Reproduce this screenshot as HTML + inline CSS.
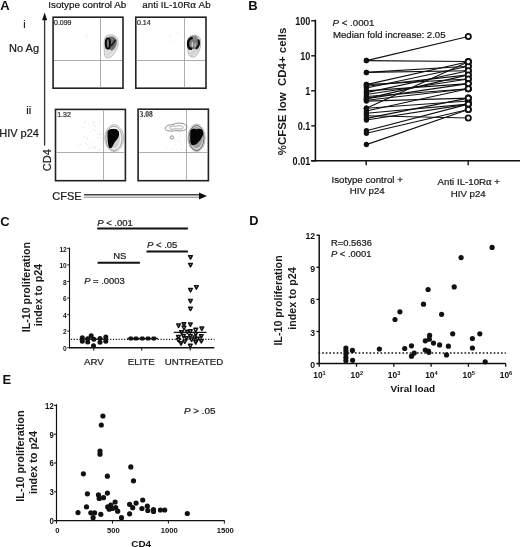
<!DOCTYPE html>
<html><head><meta charset="utf-8"><style>
html,body{margin:0;padding:0;background:#fff;}
body{width:520px;height:547px;overflow:hidden;}
svg{display:block;font-family:"Liberation Sans", sans-serif;filter:blur(0.3px);}
text:not([style*="bold"]){stroke:#1a1a1a;stroke-width:0.22px;}
</style></head><body>
<svg width="520" height="547" viewBox="0 0 520 547">
<rect width="520" height="547" fill="#fff"/>
<text x="0.3" y="9.5" style="font-size:13px;font-weight:bold;" text-anchor="start" fill="#111" >A</text>
<text x="48.3" y="7.8" style="font-size:9.8px;" text-anchor="start" fill="#1a1a1a" >Isotype control Ab</text>
<text x="142.3" y="7.8" style="font-size:9.8px;" text-anchor="start" fill="#1a1a1a" >anti IL-10R<tspan style="font-family:Liberation Serif,serif;font-size:1.1em">&#945;</tspan> Ab</text>
<text x="23.3" y="28.3" style="font-size:11px;" text-anchor="start" fill="#1a1a1a" >i</text>
<text x="9.1" y="51.7" style="font-size:11px;" text-anchor="start" fill="#1a1a1a" >No Ag</text>
<text x="26.3" y="113.9" style="font-size:11px;" text-anchor="start" fill="#1a1a1a" >ii</text>
<text x="-0.8" y="136.7" style="font-size:11px;" text-anchor="start" fill="#1a1a1a" >HIV p24</text>
<line x1="44.6" y1="19" x2="44.6" y2="145.6" stroke="#333" stroke-width="1.3" />
<polygon points="42.1,20.3 44.65,12.6 47.2,20.3" fill="#111"/>
<text transform="translate(50.6,171.2) rotate(-90)" style="font-size:11px;" text-anchor="start" fill="#1a1a1a">CD4</text>
<text x="52.3" y="199.8" style="font-size:11px;" text-anchor="start" fill="#1a1a1a" >CFSE</text>
<line x1="84" y1="194.8" x2="200" y2="194.8" stroke="#444" stroke-width="1.4" />
<line x1="84" y1="197.2" x2="200" y2="197.2" stroke="#777" stroke-width="0.9" />
<polygon points="199,192.6 207,196 199,199.4" fill="#111"/>
<rect x="53.1" y="17.2" width="69.9" height="71.0" fill="none" stroke="#222" stroke-width="1.6"/>
<line x1="100.5" y1="18.2" x2="100.5" y2="87.2" stroke="#999" stroke-width="0.8" />
<line x1="54.1" y1="60.5" x2="122.0" y2="60.5" stroke="#999" stroke-width="0.8" />
<text x="54.0" y="25.0" style="font-size:7px;" text-anchor="start" fill="#3a3a3a" >0.099</text>
<rect x="135.8" y="17.2" width="70.19999999999999" height="71.0" fill="none" stroke="#222" stroke-width="1.6"/>
<line x1="184.5" y1="18.2" x2="184.5" y2="87.2" stroke="#999" stroke-width="0.8" />
<line x1="136.8" y1="60.5" x2="205.0" y2="60.5" stroke="#999" stroke-width="0.8" />
<text x="137.0" y="25.0" style="font-size:7px;" text-anchor="start" fill="#3a3a3a" >0.14</text>
<rect x="55.5" y="109.4" width="69.9" height="71.29999999999998" fill="none" stroke="#222" stroke-width="1.6"/>
<line x1="103.5" y1="110.4" x2="103.5" y2="179.7" stroke="#999" stroke-width="0.8" />
<line x1="56.5" y1="152.5" x2="124.4" y2="152.5" stroke="#999" stroke-width="0.8" />
<text x="57.2" y="116.9" style="font-size:7px;" text-anchor="start" fill="#3a3a3a" >1.32</text>
<rect x="138.1" y="109.2" width="70.30000000000001" height="71.49999999999999" fill="none" stroke="#222" stroke-width="1.6"/>
<line x1="186.5" y1="110.2" x2="186.5" y2="179.7" stroke="#999" stroke-width="0.8" />
<line x1="139.1" y1="152.5" x2="207.4" y2="152.5" stroke="#999" stroke-width="0.8" />
<text x="139.6" y="116.8" style="font-size:7.6px;font-weight:bold;font-family:'Liberation Serif',serif" fill="#222">3.08</text>
<path d="M106,36 C110,33.5 117,35 118,40 C119,46 116,52 112,56 C109,59 104.5,58.5 104.5,54 C104,48 103.5,39 106,36 Z" fill="#e4e4e4" stroke="#9a9a9a" stroke-width="0.6"/>
<path d="M106,52 C108,49 112,49 114,47 M107,55 C110,53 113,51 115,48" fill="none" stroke="#aaa" stroke-width="0.6"/>
<path d="M109,37 C112,35.5 116.8,37.5 116.8,42 C116.8,46 114,50.5 111,50.5 C108.5,50.5 108,40 109,37 Z" fill="#6e6e6e"/>
<ellipse cx="107.9" cy="43.4" rx="2.1" ry="5.2" fill="#777" stroke="#0a0a0a" stroke-width="2.0"/>
<path d="M111.2,46 L115.6,39.8" stroke="#1a1a1a" stroke-width="1.7"/>
<path d="M189,37 C192,34.5 198,34.5 200,38 C202,43 200,52 196,56 C193,58.5 188.5,57 188,52 C187.5,46 187,40 189,37 Z" fill="#e0e0e0" stroke="#999" stroke-width="0.6"/>
<path d="M190,54 C193,52 196,50 198,46 M191,56 C194,54 197,51 199,48" fill="none" stroke="#aaa" stroke-width="0.6"/>
<ellipse cx="193.6" cy="42.6" rx="5.3" ry="6.6" fill="#7a7a7a"/>
<ellipse cx="193.8" cy="37.6" rx="3.8" ry="2.0" fill="#8a8a8a"/>
<path d="M191.8,38.3 C188.6,38.2 187.7,41.8 188.1,45 C188.4,47.6 189.6,48.9 191.2,48.8" fill="none" stroke="#0a0a0a" stroke-width="2.4" stroke-linecap="round"/>
<path d="M198.6,40.2 C199.4,43 198.8,46.2 196.6,48.2" fill="none" stroke="#111" stroke-width="2.1" stroke-linecap="round"/>
<ellipse cx="192.4" cy="44.4" rx="0.9" ry="2.6" fill="#d0d0d0"/>
<ellipse cx="195.3" cy="45.0" rx="0.7" ry="1.9" fill="#bdbdbd"/>
<ellipse cx="114.2" cy="138.1" rx="9.4" ry="13.5" fill="none" stroke="#8a8a8a" stroke-width="0.6"/>
<ellipse cx="114.0" cy="138.3" rx="8.1" ry="12.2" fill="#f2f2f2" stroke="#666" stroke-width="0.6"/>
<ellipse cx="113.4" cy="138.6" rx="6.4" ry="10.0" fill="#cfcfcf"/>
<path d="M107.5,134 C107,129.5 111,128.6 113.5,129.1 C116.5,128.6 119.6,130.5 119.1,134.5 C118.6,138.5 115.5,141 114,143.5 C112.5,146.5 111.5,148.6 110,148.3 C108,147.5 107.5,141 107.5,134 Z" fill="#050505"/>
<ellipse cx="196.6" cy="137.8" rx="8.6" ry="13.8" fill="none" stroke="#8a8a8a" stroke-width="0.6"/>
<ellipse cx="196.5" cy="138.0" rx="7.5" ry="12.6" fill="#d0d0d0" stroke="#444" stroke-width="0.8"/>
<ellipse cx="196.2" cy="137.5" rx="6.4" ry="10.6" fill="#a0a0a0"/>
<path d="M190.3,133 C189.8,128.6 194,128.2 196.5,129.5 C199.3,127.8 203.5,128.8 203.2,133 C202.9,137.5 199.5,141 197.5,143 C195.5,145 193,145.6 191.3,144.5 C189.8,142.5 190.3,137 190.3,133 Z" fill="#050505"/>
<path d="M165.2,129 C164.6,125.5 170,124.8 173,124.5 C176,123 180,122.6 183,123.6 C186,124.5 187.5,126.5 186.5,128.5 C185.5,130.8 180,131.2 176,130.6 C172,131.4 165.8,131.6 165.2,129 Z" fill="none" stroke="#6a6a6a" stroke-width="0.75"/>
<path d="M169.8,127.8 C169.8,126 173.5,125.6 175.8,126.4 C178,125.3 183.2,125.6 183.2,127.5 C183.2,129.2 178,129.4 175.8,128.6 C173.5,129.5 169.8,129.6 169.8,127.8 Z" fill="none" stroke="#777" stroke-width="0.65"/>
<circle cx="171.9" cy="137.4" r="1.6" fill="none" stroke="#666" stroke-width="0.75"/>
<rect x="83.7" y="136.3" width="0.8" height="0.8" fill="#d4d4d4"/>
<rect x="86.9" y="138.1" width="0.8" height="0.8" fill="#d4d4d4"/>
<rect x="93.0" y="122.0" width="0.8" height="0.8" fill="#d4d4d4"/>
<rect x="78.3" y="145.1" width="0.8" height="0.8" fill="#d4d4d4"/>
<rect x="84.2" y="127.0" width="0.8" height="0.8" fill="#d4d4d4"/>
<rect x="101.9" y="134.1" width="0.8" height="0.8" fill="#d4d4d4"/>
<rect x="98.1" y="134.3" width="0.8" height="0.8" fill="#d4d4d4"/>
<rect x="93.3" y="124.5" width="0.8" height="0.8" fill="#d4d4d4"/>
<rect x="93.2" y="146.0" width="0.8" height="0.8" fill="#d4d4d4"/>
<rect x="90.6" y="142.2" width="0.8" height="0.8" fill="#d4d4d4"/>
<rect x="94.1" y="121.9" width="0.8" height="0.8" fill="#d4d4d4"/>
<rect x="96.2" y="137.7" width="0.8" height="0.8" fill="#d4d4d4"/>
<rect x="85.2" y="120.9" width="0.8" height="0.8" fill="#d4d4d4"/>
<rect x="98.8" y="134.2" width="0.8" height="0.8" fill="#d4d4d4"/>
<rect x="95.3" y="146.4" width="0.8" height="0.8" fill="#d4d4d4"/>
<rect x="95.1" y="147.6" width="0.8" height="0.8" fill="#d4d4d4"/>
<rect x="87.5" y="144.0" width="0.8" height="0.8" fill="#d4d4d4"/>
<rect x="88.7" y="148.1" width="0.8" height="0.8" fill="#d4d4d4"/>
<rect x="99.1" y="122.9" width="0.8" height="0.8" fill="#d4d4d4"/>
<rect x="81.3" y="126.5" width="0.8" height="0.8" fill="#d4d4d4"/>
<rect x="101.2" y="133.1" width="0.8" height="0.8" fill="#d4d4d4"/>
<rect x="93.0" y="129.0" width="0.8" height="0.8" fill="#d4d4d4"/>
<rect x="90.2" y="131.6" width="0.8" height="0.8" fill="#d4d4d4"/>
<rect x="86.4" y="137.6" width="0.8" height="0.8" fill="#d4d4d4"/>
<rect x="92.0" y="147.1" width="0.8" height="0.8" fill="#d4d4d4"/>
<rect x="94.4" y="147.9" width="0.8" height="0.8" fill="#d4d4d4"/>
<rect x="98.6" y="149.7" width="0.8" height="0.8" fill="#d4d4d4"/>
<rect x="94.1" y="124.9" width="0.8" height="0.8" fill="#d4d4d4"/>
<rect x="98.7" y="148.9" width="0.8" height="0.8" fill="#d4d4d4"/>
<rect x="99.7" y="137.1" width="0.8" height="0.8" fill="#d4d4d4"/>
<rect x="95.1" y="126.3" width="0.8" height="0.8" fill="#d4d4d4"/>
<rect x="98.0" y="137.2" width="0.8" height="0.8" fill="#d4d4d4"/>
<rect x="84.8" y="121.9" width="0.8" height="0.8" fill="#d4d4d4"/>
<rect x="98.5" y="149.7" width="0.8" height="0.8" fill="#d4d4d4"/>
<rect x="80.1" y="144.0" width="0.8" height="0.8" fill="#d4d4d4"/>
<rect x="87.9" y="124.5" width="0.8" height="0.8" fill="#d4d4d4"/>
<rect x="85.1" y="143.1" width="0.8" height="0.8" fill="#d4d4d4"/>
<rect x="98.9" y="121.3" width="0.8" height="0.8" fill="#d4d4d4"/>
<rect x="92.7" y="121.3" width="0.8" height="0.8" fill="#d4d4d4"/>
<rect x="95.2" y="129.9" width="0.8" height="0.8" fill="#d4d4d4"/>
<rect x="185.3" y="149.6" width="0.8" height="0.8" fill="#d4d4d4"/>
<rect x="176.6" y="150.0" width="0.8" height="0.8" fill="#d4d4d4"/>
<rect x="172.1" y="129.7" width="0.8" height="0.8" fill="#d4d4d4"/>
<rect x="178.8" y="128.7" width="0.8" height="0.8" fill="#d4d4d4"/>
<rect x="169.5" y="137.0" width="0.8" height="0.8" fill="#d4d4d4"/>
<rect x="179.0" y="131.4" width="0.8" height="0.8" fill="#d4d4d4"/>
<rect x="166.0" y="147.1" width="0.8" height="0.8" fill="#d4d4d4"/>
<rect x="172.2" y="149.1" width="0.8" height="0.8" fill="#d4d4d4"/>
<rect x="185.6" y="136.3" width="0.8" height="0.8" fill="#d4d4d4"/>
<rect x="175.6" y="139.4" width="0.8" height="0.8" fill="#d4d4d4"/>
<rect x="179.8" y="141.1" width="0.8" height="0.8" fill="#d4d4d4"/>
<rect x="177.9" y="141.6" width="0.8" height="0.8" fill="#d4d4d4"/>
<rect x="186.6" y="139.2" width="0.8" height="0.8" fill="#d4d4d4"/>
<rect x="174.9" y="143.8" width="0.8" height="0.8" fill="#d4d4d4"/>
<rect x="170.5" y="134.6" width="0.8" height="0.8" fill="#d4d4d4"/>
<rect x="187.5" y="139.5" width="0.8" height="0.8" fill="#d4d4d4"/>
<rect x="177.6" y="128.3" width="0.8" height="0.8" fill="#d4d4d4"/>
<rect x="174.5" y="140.8" width="0.8" height="0.8" fill="#d4d4d4"/>
<rect x="165.5" y="141.5" width="0.8" height="0.8" fill="#d4d4d4"/>
<rect x="179.5" y="129.3" width="0.8" height="0.8" fill="#d4d4d4"/>
<rect x="179.4" y="138.3" width="0.8" height="0.8" fill="#d4d4d4"/>
<rect x="180.6" y="135.8" width="0.8" height="0.8" fill="#d4d4d4"/>
<rect x="181.3" y="144.2" width="0.8" height="0.8" fill="#d4d4d4"/>
<rect x="165.5" y="129.3" width="0.8" height="0.8" fill="#d4d4d4"/>
<rect x="180.5" y="149.2" width="0.8" height="0.8" fill="#d4d4d4"/>
<rect x="85.5" y="36.0" width="0.8" height="0.8" fill="#d4d4d4"/>
<rect x="90.3" y="34.5" width="0.8" height="0.8" fill="#d4d4d4"/>
<rect x="87.1" y="34.4" width="0.8" height="0.8" fill="#d4d4d4"/>
<rect x="87.2" y="37.6" width="0.8" height="0.8" fill="#d4d4d4"/>
<rect x="169.5" y="36.5" width="0.8" height="0.8" fill="#d4d4d4"/>
<rect x="176.6" y="32.3" width="0.8" height="0.8" fill="#d4d4d4"/>
<rect x="173.5" y="40.8" width="0.8" height="0.8" fill="#d4d4d4"/>
<rect x="169.7" y="34.7" width="0.8" height="0.8" fill="#d4d4d4"/>
<text x="248.2" y="10.0" style="font-size:13px;font-weight:bold;" text-anchor="start" fill="#111" >B</text>
<text transform="translate(286.1,155.2) rotate(-90)" style="font-size:11.45px;font-weight:bold;" text-anchor="start" fill="#1a1a1a">%CFSE low&#160; CD4+ cells</text>
<line x1="315.4" y1="19.7" x2="315.4" y2="161.6" stroke="#111" stroke-width="1.6" />
<line x1="311.2" y1="160.8" x2="520" y2="160.8" stroke="#111" stroke-width="1.6" />
<line x1="311.2" y1="20.8" x2="315.4" y2="20.8" stroke="#111" stroke-width="1.4" />
<text transform="translate(310.3,24.50) scale(0.9,1)" style="font-size:10.1px;font-weight:bold" text-anchor="end" fill="#111">100</text>
<line x1="311.2" y1="55.8" x2="315.4" y2="55.8" stroke="#111" stroke-width="1.4" />
<text transform="translate(310.3,59.50) scale(0.9,1)" style="font-size:10.1px;font-weight:bold" text-anchor="end" fill="#111">10</text>
<line x1="311.2" y1="90.8" x2="315.4" y2="90.8" stroke="#111" stroke-width="1.4" />
<text transform="translate(310.3,94.50) scale(0.9,1)" style="font-size:10.1px;font-weight:bold" text-anchor="end" fill="#111">1</text>
<line x1="311.2" y1="125.8" x2="315.4" y2="125.8" stroke="#111" stroke-width="1.4" />
<text transform="translate(310.3,129.50) scale(0.9,1)" style="font-size:10.1px;font-weight:bold" text-anchor="end" fill="#111">0.1</text>
<line x1="311.2" y1="160.8" x2="315.4" y2="160.8" stroke="#111" stroke-width="1.4" />
<text transform="translate(310.3,164.50) scale(0.9,1)" style="font-size:10.1px;font-weight:bold" text-anchor="end" fill="#111">0.01</text>
<line x1="366.2" y1="160.8" x2="366.2" y2="165.2" stroke="#111" stroke-width="1.4" />
<line x1="468.2" y1="160.8" x2="468.2" y2="165.2" stroke="#111" stroke-width="1.4" />
<text x="367.2" y="182.8" style="font-size:9.7px;" text-anchor="middle" fill="#1a1a1a" >Isotype control +</text>
<text x="367.2" y="194.4" style="font-size:9.7px;" text-anchor="middle" fill="#1a1a1a" >HIV p24</text>
<text x="468.8" y="185.0" style="font-size:9.7px;" text-anchor="middle" fill="#1a1a1a" >Anti IL-10R<tspan style="font-family:Liberation Serif,serif;font-size:1.1em">&#945;</tspan> +</text>
<text x="468.2" y="196.5" style="font-size:9.7px;" text-anchor="middle" fill="#1a1a1a" >HIV p24</text>
<text x="332.6" y="26.1" style="font-size:9.7px;" text-anchor="start" fill="#1a1a1a" ><tspan style="font-style:italic">P</tspan> &lt; .0001</text>
<text x="333.0" y="37.6" style="font-size:9.6px;" text-anchor="start" fill="#1a1a1a" >Median fold increase: 2.05</text>
<line x1="366.4" y1="60.6" x2="468.3" y2="36.5" stroke="#111" stroke-width="1.15" />
<line x1="366.4" y1="60.6" x2="468.3" y2="61.5" stroke="#111" stroke-width="1.15" />
<line x1="366.4" y1="72.4" x2="468.3" y2="66.3" stroke="#111" stroke-width="1.15" />
<line x1="366.4" y1="72.4" x2="468.3" y2="70.7" stroke="#111" stroke-width="1.15" />
<line x1="366.4" y1="84.6" x2="468.3" y2="61.7" stroke="#111" stroke-width="1.15" />
<line x1="366.4" y1="86.2" x2="468.3" y2="74.9" stroke="#111" stroke-width="1.15" />
<line x1="366.4" y1="88" x2="468.3" y2="66.3" stroke="#111" stroke-width="1.15" />
<line x1="366.4" y1="90.9" x2="468.3" y2="83.6" stroke="#111" stroke-width="1.15" />
<line x1="366.4" y1="92.6" x2="468.3" y2="70.7" stroke="#111" stroke-width="1.15" />
<line x1="366.4" y1="94.5" x2="468.3" y2="79" stroke="#111" stroke-width="1.15" />
<line x1="366.4" y1="96.5" x2="468.3" y2="88.8" stroke="#111" stroke-width="1.15" />
<line x1="366.4" y1="98.6" x2="468.3" y2="74.9" stroke="#111" stroke-width="1.15" />
<line x1="366.4" y1="100.3" x2="468.3" y2="88.7" stroke="#111" stroke-width="1.15" />
<line x1="366.4" y1="101.1" x2="468.3" y2="98.1" stroke="#111" stroke-width="1.15" />
<line x1="366.4" y1="108.2" x2="468.3" y2="101" stroke="#111" stroke-width="1.15" />
<line x1="366.4" y1="111" x2="468.3" y2="88.8" stroke="#111" stroke-width="1.15" />
<line x1="366.4" y1="113.2" x2="468.3" y2="104.1" stroke="#111" stroke-width="1.15" />
<line x1="366.4" y1="115.8" x2="468.3" y2="118.0" stroke="#111" stroke-width="1.15" />
<line x1="366.4" y1="118.4" x2="468.3" y2="98.1" stroke="#111" stroke-width="1.15" />
<line x1="366.4" y1="120" x2="468.3" y2="104.1" stroke="#111" stroke-width="1.15" />
<line x1="366.4" y1="130.7" x2="468.3" y2="104.1" stroke="#111" stroke-width="1.15" />
<line x1="366.4" y1="133.3" x2="468.3" y2="109.5" stroke="#111" stroke-width="1.15" />
<line x1="366.4" y1="144.6" x2="468.3" y2="109.5" stroke="#111" stroke-width="1.15" />
<line x1="366.4" y1="84.6" x2="468.3" y2="79" stroke="#111" stroke-width="1.15" />
<line x1="366.4" y1="98.6" x2="468.3" y2="83.6" stroke="#111" stroke-width="1.15" />
<line x1="366.4" y1="108.2" x2="468.3" y2="61.7" stroke="#111" stroke-width="1.15" />
<ellipse cx="366.4" cy="60.6" rx="2.65" ry="2.75" fill="#111"/>
<ellipse cx="366.4" cy="60.6" rx="2.65" ry="2.75" fill="#111"/>
<ellipse cx="366.4" cy="72.4" rx="2.65" ry="2.75" fill="#111"/>
<ellipse cx="366.4" cy="72.4" rx="2.65" ry="2.75" fill="#111"/>
<ellipse cx="366.4" cy="84.6" rx="2.65" ry="2.75" fill="#111"/>
<ellipse cx="366.4" cy="86.2" rx="2.65" ry="2.75" fill="#111"/>
<ellipse cx="366.4" cy="88" rx="2.65" ry="2.75" fill="#111"/>
<ellipse cx="366.4" cy="90.9" rx="2.65" ry="2.75" fill="#111"/>
<ellipse cx="366.4" cy="92.6" rx="2.65" ry="2.75" fill="#111"/>
<ellipse cx="366.4" cy="94.5" rx="2.65" ry="2.75" fill="#111"/>
<ellipse cx="366.4" cy="96.5" rx="2.65" ry="2.75" fill="#111"/>
<ellipse cx="366.4" cy="98.6" rx="2.65" ry="2.75" fill="#111"/>
<ellipse cx="366.4" cy="100.3" rx="2.65" ry="2.75" fill="#111"/>
<ellipse cx="366.4" cy="101.1" rx="2.65" ry="2.75" fill="#111"/>
<ellipse cx="366.4" cy="108.2" rx="2.65" ry="2.75" fill="#111"/>
<ellipse cx="366.4" cy="111" rx="2.65" ry="2.75" fill="#111"/>
<ellipse cx="366.4" cy="113.2" rx="2.65" ry="2.75" fill="#111"/>
<ellipse cx="366.4" cy="115.8" rx="2.65" ry="2.75" fill="#111"/>
<ellipse cx="366.4" cy="118.4" rx="2.65" ry="2.75" fill="#111"/>
<ellipse cx="366.4" cy="120" rx="2.65" ry="2.75" fill="#111"/>
<ellipse cx="366.4" cy="130.7" rx="2.65" ry="2.75" fill="#111"/>
<ellipse cx="366.4" cy="133.3" rx="2.65" ry="2.75" fill="#111"/>
<ellipse cx="366.4" cy="144.6" rx="2.65" ry="2.75" fill="#111"/>
<ellipse cx="366.4" cy="84.6" rx="2.65" ry="2.75" fill="#111"/>
<ellipse cx="366.4" cy="98.6" rx="2.65" ry="2.75" fill="#111"/>
<ellipse cx="366.4" cy="108.2" rx="2.65" ry="2.75" fill="#111"/>
<circle cx="468.3" cy="36.5" r="2.6" fill="#fff" stroke="#111" stroke-width="1.8"/>
<circle cx="468.3" cy="61.5" r="2.6" fill="#fff" stroke="#111" stroke-width="1.8"/>
<circle cx="468.3" cy="66.3" r="2.6" fill="#fff" stroke="#111" stroke-width="1.8"/>
<circle cx="468.3" cy="70.7" r="2.6" fill="#fff" stroke="#111" stroke-width="1.8"/>
<circle cx="468.3" cy="61.7" r="2.6" fill="#fff" stroke="#111" stroke-width="1.8"/>
<circle cx="468.3" cy="74.9" r="2.6" fill="#fff" stroke="#111" stroke-width="1.8"/>
<circle cx="468.3" cy="66.3" r="2.6" fill="#fff" stroke="#111" stroke-width="1.8"/>
<circle cx="468.3" cy="83.6" r="2.6" fill="#fff" stroke="#111" stroke-width="1.8"/>
<circle cx="468.3" cy="70.7" r="2.6" fill="#fff" stroke="#111" stroke-width="1.8"/>
<circle cx="468.3" cy="79.0" r="2.6" fill="#fff" stroke="#111" stroke-width="1.8"/>
<circle cx="468.3" cy="88.8" r="2.6" fill="#fff" stroke="#111" stroke-width="1.8"/>
<circle cx="468.3" cy="74.9" r="2.6" fill="#fff" stroke="#111" stroke-width="1.8"/>
<circle cx="468.3" cy="88.7" r="2.6" fill="#fff" stroke="#111" stroke-width="1.8"/>
<circle cx="468.3" cy="98.1" r="2.6" fill="#fff" stroke="#111" stroke-width="1.8"/>
<circle cx="468.3" cy="101.0" r="2.6" fill="#fff" stroke="#111" stroke-width="1.8"/>
<circle cx="468.3" cy="88.8" r="2.6" fill="#fff" stroke="#111" stroke-width="1.8"/>
<circle cx="468.3" cy="104.1" r="2.6" fill="#fff" stroke="#111" stroke-width="1.8"/>
<circle cx="468.3" cy="118.0" r="2.6" fill="#fff" stroke="#111" stroke-width="1.8"/>
<circle cx="468.3" cy="98.1" r="2.6" fill="#fff" stroke="#111" stroke-width="1.8"/>
<circle cx="468.3" cy="104.1" r="2.6" fill="#fff" stroke="#111" stroke-width="1.8"/>
<circle cx="468.3" cy="104.1" r="2.6" fill="#fff" stroke="#111" stroke-width="1.8"/>
<circle cx="468.3" cy="109.5" r="2.6" fill="#fff" stroke="#111" stroke-width="1.8"/>
<circle cx="468.3" cy="109.5" r="2.6" fill="#fff" stroke="#111" stroke-width="1.8"/>
<circle cx="468.3" cy="79.0" r="2.6" fill="#fff" stroke="#111" stroke-width="1.8"/>
<circle cx="468.3" cy="83.6" r="2.6" fill="#fff" stroke="#111" stroke-width="1.8"/>
<circle cx="468.3" cy="61.7" r="2.6" fill="#fff" stroke="#111" stroke-width="1.8"/>
<text x="0.3" y="225.6" style="font-size:13px;font-weight:bold;" text-anchor="start" fill="#111" >C</text>
<text transform="translate(29.6,332.3) rotate(-90)" style="font-size:10.7px;font-weight:bold;" text-anchor="start" fill="#1a1a1a">IL-10 proliferation</text>
<text transform="translate(42.4,326.3) rotate(-90)" style="font-size:10.7px;font-weight:bold;" text-anchor="start" fill="#1a1a1a">index to p24</text>
<line x1="69.5" y1="247.6" x2="69.5" y2="348.5" stroke="#111" stroke-width="1.1" />
<line x1="69.5" y1="347.7" x2="214.3" y2="347.7" stroke="#111" stroke-width="1.5" />
<line x1="67.2" y1="347.7" x2="69.5" y2="347.7" stroke="#111" stroke-width="0.9" />
<text transform="translate(66.7,350.90) scale(0.9,1)" style="font-size:7.3px;font-weight:bold" text-anchor="end" fill="#111">0</text>
<line x1="67.2" y1="331.14" x2="69.5" y2="331.14" stroke="#111" stroke-width="0.9" />
<text transform="translate(66.7,334.34) scale(0.9,1)" style="font-size:7.3px;font-weight:bold" text-anchor="end" fill="#111">2</text>
<line x1="67.2" y1="314.58" x2="69.5" y2="314.58" stroke="#111" stroke-width="0.9" />
<text transform="translate(66.7,317.78) scale(0.9,1)" style="font-size:7.3px;font-weight:bold" text-anchor="end" fill="#111">4</text>
<line x1="67.2" y1="298.02" x2="69.5" y2="298.02" stroke="#111" stroke-width="0.9" />
<text transform="translate(66.7,301.22) scale(0.9,1)" style="font-size:7.3px;font-weight:bold" text-anchor="end" fill="#111">6</text>
<line x1="67.2" y1="281.46" x2="69.5" y2="281.46" stroke="#111" stroke-width="0.9" />
<text transform="translate(66.7,284.66) scale(0.9,1)" style="font-size:7.3px;font-weight:bold" text-anchor="end" fill="#111">8</text>
<line x1="67.2" y1="264.9" x2="69.5" y2="264.9" stroke="#111" stroke-width="0.9" />
<text transform="translate(66.7,268.10) scale(0.9,1)" style="font-size:7.3px;font-weight:bold" text-anchor="end" fill="#111">10</text>
<line x1="67.2" y1="248.34" x2="69.5" y2="248.34" stroke="#111" stroke-width="0.9" />
<text transform="translate(66.7,251.54) scale(0.9,1)" style="font-size:7.3px;font-weight:bold" text-anchor="end" fill="#111">12</text>
<line x1="93.8" y1="347.7" x2="93.8" y2="350.6" stroke="#111" stroke-width="1.0" />
<line x1="141.7" y1="347.7" x2="141.7" y2="350.6" stroke="#111" stroke-width="1.0" />
<line x1="190.2" y1="347.7" x2="190.2" y2="350.6" stroke="#111" stroke-width="1.0" />
<line x1="70.9" y1="339.3" x2="214.5" y2="339.3" stroke="#111" stroke-width="1.3" stroke-dasharray="1.2 1.6"/>
<text x="93.8" y="364.6" style="font-size:9.7px;" text-anchor="middle" fill="#1a1a1a" >ARV</text>
<text x="141.2" y="364.6" style="font-size:9.7px;" text-anchor="middle" fill="#1a1a1a" >ELITE</text>
<text x="193.9" y="364.6" style="font-size:9.7px;" text-anchor="middle" fill="#1a1a1a" >UNTREATED</text>
<text x="97.2" y="226.0" style="font-size:9.5px;" text-anchor="start" fill="#1a1a1a" ><tspan style="font-style:italic">P</tspan> &lt; .001</text>
<line x1="97.2" y1="228.4" x2="187.9" y2="228.4" stroke="#111" stroke-width="2.0" />
<text x="147.0" y="248.3" style="font-size:9.5px;" text-anchor="start" fill="#1a1a1a" ><tspan style="font-style:italic">P</tspan> &lt; .05</text>
<line x1="146.5" y1="251.4" x2="187.9" y2="251.4" stroke="#111" stroke-width="2.0" />
<text x="119.8" y="259.0" style="font-size:9.5px;" text-anchor="middle" fill="#1a1a1a" >NS</text>
<line x1="97.6" y1="262.7" x2="139.9" y2="262.7" stroke="#111" stroke-width="2.0" />
<text x="84.2" y="284.4" style="font-size:9.4px;" text-anchor="start" fill="#1a1a1a" ><tspan style="font-style:italic">P</tspan> = .0003</text>
<circle cx="82.3" cy="337.7" r="2.5" fill="#111" stroke="none" stroke-width="0"/>
<circle cx="82.3" cy="341.2" r="2.5" fill="#111" stroke="none" stroke-width="0"/>
<circle cx="87.7" cy="338.8" r="2.5" fill="#111" stroke="none" stroke-width="0"/>
<circle cx="87.7" cy="341.9" r="2.5" fill="#111" stroke="none" stroke-width="0"/>
<circle cx="91.2" cy="335.8" r="2.5" fill="#111" stroke="none" stroke-width="0"/>
<circle cx="93.8" cy="339.2" r="2.5" fill="#111" stroke="none" stroke-width="0"/>
<circle cx="100.0" cy="338.5" r="2.5" fill="#111" stroke="none" stroke-width="0"/>
<circle cx="100.0" cy="342.3" r="2.5" fill="#111" stroke="none" stroke-width="0"/>
<circle cx="105.8" cy="336.9" r="2.5" fill="#111" stroke="none" stroke-width="0"/>
<circle cx="105.8" cy="341.2" r="2.5" fill="#111" stroke="none" stroke-width="0"/>
<circle cx="93.5" cy="345.8" r="2.5" fill="#111" stroke="none" stroke-width="0"/>
<line x1="80" y1="339.2" x2="108" y2="339.2" stroke="#111" stroke-width="1.2" />
<line x1="127.3" y1="338.5" x2="157.9" y2="338.5" stroke="#111" stroke-width="1.4" />
<rect x="128.6" y="336.6" width="4.4" height="3.8" rx="1.2" fill="#111"/>
<rect x="133.8" y="336.6" width="4.4" height="3.8" rx="1.2" fill="#111"/>
<rect x="140.1" y="336.6" width="4.4" height="3.8" rx="1.2" fill="#111"/>
<rect x="145.8" y="336.6" width="4.4" height="3.8" rx="1.2" fill="#111"/>
<rect x="151.6" y="336.6" width="4.4" height="3.8" rx="1.2" fill="#111"/>
<path d="M188.65,255.65 L192.35,255.65 L190.50,259.05 Z" fill="#fff" stroke="#111" stroke-width="1.5" stroke-linejoin="round"/>
<path d="M188.65,263.45 L192.35,263.45 L190.50,266.85 Z" fill="#fff" stroke="#111" stroke-width="1.5" stroke-linejoin="round"/>
<path d="M188.65,288.45 L192.35,288.45 L190.50,291.85 Z" fill="#fff" stroke="#111" stroke-width="1.5" stroke-linejoin="round"/>
<path d="M194.55,285.75 L198.25,285.75 L196.40,289.15 Z" fill="#fff" stroke="#111" stroke-width="1.5" stroke-linejoin="round"/>
<path d="M188.65,299.45 L192.35,299.45 L190.50,302.85 Z" fill="#fff" stroke="#111" stroke-width="1.5" stroke-linejoin="round"/>
<path d="M188.65,307.15 L192.35,307.15 L190.50,310.55 Z" fill="#fff" stroke="#111" stroke-width="1.5" stroke-linejoin="round"/>
<path d="M176.75,323.95 L180.45,323.95 L178.60,327.35 Z" fill="#fff" stroke="#111" stroke-width="1.5" stroke-linejoin="round"/>
<path d="M182.05,322.65 L185.75,322.65 L183.90,326.05 Z" fill="#fff" stroke="#111" stroke-width="1.5" stroke-linejoin="round"/>
<path d="M188.55,322.95 L192.25,322.95 L190.40,326.35 Z" fill="#fff" stroke="#111" stroke-width="1.5" stroke-linejoin="round"/>
<path d="M182.15,326.25 L185.85,326.25 L184.00,329.65 Z" fill="#fff" stroke="#111" stroke-width="1.5" stroke-linejoin="round"/>
<path d="M193.85,328.35 L197.55,328.35 L195.70,331.75 Z" fill="#fff" stroke="#111" stroke-width="1.5" stroke-linejoin="round"/>
<path d="M199.95,327.05 L203.65,327.05 L201.80,330.45 Z" fill="#fff" stroke="#111" stroke-width="1.5" stroke-linejoin="round"/>
<path d="M179.65,330.65 L183.35,330.65 L181.50,334.05 Z" fill="#fff" stroke="#111" stroke-width="1.5" stroke-linejoin="round"/>
<path d="M185.45,330.15 L189.15,330.15 L187.30,333.55 Z" fill="#fff" stroke="#111" stroke-width="1.5" stroke-linejoin="round"/>
<path d="M188.45,329.85 L192.15,329.85 L190.30,333.25 Z" fill="#fff" stroke="#111" stroke-width="1.5" stroke-linejoin="round"/>
<path d="M193.85,332.45 L197.55,332.45 L195.70,335.85 Z" fill="#fff" stroke="#111" stroke-width="1.5" stroke-linejoin="round"/>
<path d="M176.55,335.45 L180.25,335.45 L178.40,338.85 Z" fill="#fff" stroke="#111" stroke-width="1.5" stroke-linejoin="round"/>
<path d="M181.65,334.45 L185.35,334.45 L183.50,337.85 Z" fill="#fff" stroke="#111" stroke-width="1.5" stroke-linejoin="round"/>
<path d="M188.45,334.45 L192.15,334.45 L190.30,337.85 Z" fill="#fff" stroke="#111" stroke-width="1.5" stroke-linejoin="round"/>
<path d="M192.85,335.95 L196.55,335.95 L194.70,339.35 Z" fill="#fff" stroke="#111" stroke-width="1.5" stroke-linejoin="round"/>
<path d="M199.45,334.65 L203.15,334.65 L201.30,338.05 Z" fill="#fff" stroke="#111" stroke-width="1.5" stroke-linejoin="round"/>
<path d="M184.65,336.65 L188.35,336.65 L186.50,340.05 Z" fill="#fff" stroke="#111" stroke-width="1.5" stroke-linejoin="round"/>
<path d="M195.65,337.15 L199.35,337.15 L197.50,340.55 Z" fill="#fff" stroke="#111" stroke-width="1.5" stroke-linejoin="round"/>
<path d="M176.55,338.55 L180.25,338.55 L178.40,341.95 Z" fill="#fff" stroke="#111" stroke-width="1.5" stroke-linejoin="round"/>
<path d="M189.75,338.05 L193.45,338.05 L191.60,341.45 Z" fill="#fff" stroke="#111" stroke-width="1.5" stroke-linejoin="round"/>
<path d="M199.45,339.55 L203.15,339.55 L201.30,342.95 Z" fill="#fff" stroke="#111" stroke-width="1.5" stroke-linejoin="round"/>
<path d="M179.15,341.65 L182.85,341.65 L181.00,345.05 Z" fill="#fff" stroke="#111" stroke-width="1.5" stroke-linejoin="round"/>
<path d="M182.95,340.05 L186.65,340.05 L184.80,343.45 Z" fill="#fff" stroke="#111" stroke-width="1.5" stroke-linejoin="round"/>
<path d="M193.85,340.65 L197.55,340.65 L195.70,344.05 Z" fill="#fff" stroke="#111" stroke-width="1.5" stroke-linejoin="round"/>
<path d="M188.45,344.15 L192.15,344.15 L190.30,347.55 Z" fill="#fff" stroke="#111" stroke-width="1.5" stroke-linejoin="round"/>
<line x1="173.7" y1="332.4" x2="206.5" y2="332.4" stroke="#111" stroke-width="1.3" />
<text x="249.2" y="225.4" style="font-size:12.8px;font-weight:bold;" text-anchor="start" fill="#111" >D</text>
<text transform="translate(281.6,345.6) rotate(-90)" style="font-size:10.7px;font-weight:bold;" text-anchor="start" fill="#1a1a1a">IL-10 proliferation</text>
<text transform="translate(295.8,329.7) rotate(-90)" style="font-size:10.7px;font-weight:bold;" text-anchor="start" fill="#1a1a1a">index to p24</text>
<line x1="319.2" y1="234.8" x2="319.2" y2="364" stroke="#111" stroke-width="1.5" />
<line x1="316.8" y1="363.4" x2="505.8" y2="363.4" stroke="#111" stroke-width="1.5" />
<line x1="316.4" y1="363.6" x2="319.2" y2="363.6" stroke="#111" stroke-width="1.3" />
<text x="315.2" y="367.8" style="font-size:8.7px;font-weight:bold;" text-anchor="end" fill="#111" >0</text>
<line x1="316.4" y1="331.5" x2="319.2" y2="331.5" stroke="#111" stroke-width="1.3" />
<text x="315.2" y="335.7" style="font-size:8.7px;font-weight:bold;" text-anchor="end" fill="#111" >3</text>
<line x1="316.4" y1="299.40000000000003" x2="319.2" y2="299.40000000000003" stroke="#111" stroke-width="1.3" />
<text x="315.2" y="303.6" style="font-size:8.7px;font-weight:bold;" text-anchor="end" fill="#111" >6</text>
<line x1="316.4" y1="267.3" x2="319.2" y2="267.3" stroke="#111" stroke-width="1.3" />
<text x="315.2" y="271.5" style="font-size:8.7px;font-weight:bold;" text-anchor="end" fill="#111" >9</text>
<line x1="316.4" y1="235.20000000000005" x2="319.2" y2="235.20000000000005" stroke="#111" stroke-width="1.3" />
<text x="315.2" y="239.40000000000003" style="font-size:8.7px;font-weight:bold;" text-anchor="end" fill="#111" >12</text>
<line x1="319.2" y1="363.4" x2="319.2" y2="366.8" stroke="#111" stroke-width="1.3" />
<text x="319.5" y="378.2" style="font-size:8.4px;font-weight:bold;" text-anchor="middle" fill="#111" >10<tspan dy="-3.6" style="font-size:5.6px">1</tspan></text>
<line x1="356.5" y1="363.4" x2="356.5" y2="366.8" stroke="#111" stroke-width="1.3" />
<text x="356.8" y="378.2" style="font-size:8.4px;font-weight:bold;" text-anchor="middle" fill="#111" >10<tspan dy="-3.6" style="font-size:5.6px">2</tspan></text>
<line x1="393.79999999999995" y1="363.4" x2="393.79999999999995" y2="366.8" stroke="#111" stroke-width="1.3" />
<text x="394.09999999999997" y="378.2" style="font-size:8.4px;font-weight:bold;" text-anchor="middle" fill="#111" >10<tspan dy="-3.6" style="font-size:5.6px">3</tspan></text>
<line x1="431.09999999999997" y1="363.4" x2="431.09999999999997" y2="366.8" stroke="#111" stroke-width="1.3" />
<text x="431.4" y="378.2" style="font-size:8.4px;font-weight:bold;" text-anchor="middle" fill="#111" >10<tspan dy="-3.6" style="font-size:5.6px">4</tspan></text>
<line x1="468.4" y1="363.4" x2="468.4" y2="366.8" stroke="#111" stroke-width="1.3" />
<text x="468.7" y="378.2" style="font-size:8.4px;font-weight:bold;" text-anchor="middle" fill="#111" >10<tspan dy="-3.6" style="font-size:5.6px">5</tspan></text>
<line x1="505.7" y1="363.4" x2="505.7" y2="366.8" stroke="#111" stroke-width="1.3" />
<text x="506.0" y="378.2" style="font-size:8.4px;font-weight:bold;" text-anchor="middle" fill="#111" >10<tspan dy="-3.6" style="font-size:5.6px">6</tspan></text>
<text x="390.6" y="392.3" style="font-size:9.95px;font-weight:bold;" text-anchor="start" fill="#111" >Viral load</text>
<text x="331.0" y="245.6" style="font-size:9.4px;" text-anchor="start" fill="#1a1a1a" >R=0.5636</text>
<text x="331.0" y="257.1" style="font-size:9.4px;" text-anchor="start" fill="#1a1a1a" ><tspan style="font-style:italic">P</tspan> &lt; .0001</text>
<line x1="318.5" y1="353.0" x2="505.8" y2="353.0" stroke="#111" stroke-width="1.4" stroke-dasharray="1.6 2.05"/>
<circle cx="345.9" cy="348.0" r="2.6" fill="#111" stroke="none" stroke-width="0"/>
<circle cx="345.9" cy="351.0" r="2.6" fill="#111" stroke="none" stroke-width="0"/>
<circle cx="345.9" cy="354.0" r="2.6" fill="#111" stroke="none" stroke-width="0"/>
<circle cx="345.9" cy="357.5" r="2.6" fill="#111" stroke="none" stroke-width="0"/>
<circle cx="345.9" cy="360.5" r="2.6" fill="#111" stroke="none" stroke-width="0"/>
<circle cx="352.4" cy="350.4" r="2.6" fill="#111" stroke="none" stroke-width="0"/>
<circle cx="352.6" cy="360.3" r="2.6" fill="#111" stroke="none" stroke-width="0"/>
<circle cx="379.4" cy="349.0" r="2.6" fill="#111" stroke="none" stroke-width="0"/>
<circle cx="395.0" cy="319.5" r="2.6" fill="#111" stroke="none" stroke-width="0"/>
<circle cx="399.9" cy="311.8" r="2.6" fill="#111" stroke="none" stroke-width="0"/>
<circle cx="404.7" cy="348.5" r="2.6" fill="#111" stroke="none" stroke-width="0"/>
<circle cx="411.5" cy="345.8" r="2.6" fill="#111" stroke="none" stroke-width="0"/>
<circle cx="414.2" cy="353.1" r="2.6" fill="#111" stroke="none" stroke-width="0"/>
<circle cx="411.5" cy="356.2" r="2.6" fill="#111" stroke="none" stroke-width="0"/>
<circle cx="423.5" cy="304.2" r="2.6" fill="#111" stroke="none" stroke-width="0"/>
<circle cx="428.1" cy="289.5" r="2.6" fill="#111" stroke="none" stroke-width="0"/>
<circle cx="429.6" cy="335.4" r="2.6" fill="#111" stroke="none" stroke-width="0"/>
<circle cx="425.3" cy="340.8" r="2.6" fill="#111" stroke="none" stroke-width="0"/>
<circle cx="429.3" cy="339.2" r="2.6" fill="#111" stroke="none" stroke-width="0"/>
<circle cx="433.5" cy="343.1" r="2.6" fill="#111" stroke="none" stroke-width="0"/>
<circle cx="425.3" cy="350.0" r="2.6" fill="#111" stroke="none" stroke-width="0"/>
<circle cx="428.5" cy="351.1" r="2.6" fill="#111" stroke="none" stroke-width="0"/>
<circle cx="428.8" cy="352.3" r="2.6" fill="#111" stroke="none" stroke-width="0"/>
<circle cx="439.6" cy="344.9" r="2.6" fill="#111" stroke="none" stroke-width="0"/>
<circle cx="441.6" cy="314.3" r="2.6" fill="#111" stroke="none" stroke-width="0"/>
<circle cx="448.4" cy="346.2" r="2.6" fill="#111" stroke="none" stroke-width="0"/>
<circle cx="446.5" cy="354.9" r="2.6" fill="#111" stroke="none" stroke-width="0"/>
<circle cx="452.7" cy="333.8" r="2.6" fill="#111" stroke="none" stroke-width="0"/>
<circle cx="454.2" cy="286.9" r="2.6" fill="#111" stroke="none" stroke-width="0"/>
<circle cx="461.1" cy="257.6" r="2.6" fill="#111" stroke="none" stroke-width="0"/>
<circle cx="472.4" cy="338.5" r="2.6" fill="#111" stroke="none" stroke-width="0"/>
<circle cx="479.8" cy="333.8" r="2.6" fill="#111" stroke="none" stroke-width="0"/>
<circle cx="472.4" cy="348.0" r="2.6" fill="#111" stroke="none" stroke-width="0"/>
<circle cx="485.2" cy="361.8" r="2.6" fill="#111" stroke="none" stroke-width="0"/>
<circle cx="492.1" cy="247.4" r="2.6" fill="#111" stroke="none" stroke-width="0"/>
<text x="2.6" y="383.5" style="font-size:13px;font-weight:bold;" text-anchor="start" fill="#111" >E</text>
<text transform="translate(24.1,501.7) rotate(-90)" style="font-size:10.8px;font-weight:bold;" text-anchor="start" fill="#1a1a1a">IL-10 proliferation</text>
<text transform="translate(36.5,494.0) rotate(-90)" style="font-size:10.8px;font-weight:bold;" text-anchor="start" fill="#1a1a1a">index to p24</text>
<line x1="56.5" y1="404.2" x2="56.5" y2="521" stroke="#111" stroke-width="1.2" />
<line x1="53.8" y1="520.6" x2="224.6" y2="520.6" stroke="#111" stroke-width="1.3" />
<line x1="54" y1="520.6" x2="56.5" y2="520.6" stroke="#111" stroke-width="1.0" />
<text transform="translate(53.7,523.90) scale(0.9,1)" style="font-size:8.6px;font-weight:bold" text-anchor="end" fill="#111">0</text>
<line x1="54" y1="491.8" x2="56.5" y2="491.8" stroke="#111" stroke-width="1.0" />
<text transform="translate(53.7,495.10) scale(0.9,1)" style="font-size:8.6px;font-weight:bold" text-anchor="end" fill="#111">3</text>
<line x1="54" y1="463.0" x2="56.5" y2="463.0" stroke="#111" stroke-width="1.0" />
<text transform="translate(53.7,466.30) scale(0.9,1)" style="font-size:8.6px;font-weight:bold" text-anchor="end" fill="#111">6</text>
<line x1="54" y1="434.20000000000005" x2="56.5" y2="434.20000000000005" stroke="#111" stroke-width="1.0" />
<text transform="translate(53.7,437.50) scale(0.9,1)" style="font-size:8.6px;font-weight:bold" text-anchor="end" fill="#111">9</text>
<line x1="54" y1="405.40000000000003" x2="56.5" y2="405.40000000000003" stroke="#111" stroke-width="1.0" />
<text transform="translate(53.7,408.70) scale(0.9,1)" style="font-size:8.6px;font-weight:bold" text-anchor="end" fill="#111">12</text>
<line x1="56.5" y1="520.6" x2="56.5" y2="523.6" stroke="#111" stroke-width="1.0" />
<text x="57.4" y="533.3" style="font-size:7.7px;font-weight:bold;" text-anchor="middle" fill="#111" >0</text>
<line x1="112.45" y1="520.6" x2="112.45" y2="523.6" stroke="#111" stroke-width="1.0" />
<text x="113.35000000000001" y="533.3" style="font-size:7.7px;font-weight:bold;" text-anchor="middle" fill="#111" >500</text>
<line x1="168.4" y1="520.6" x2="168.4" y2="523.6" stroke="#111" stroke-width="1.0" />
<text x="169.3" y="533.3" style="font-size:7.7px;font-weight:bold;" text-anchor="middle" fill="#111" >1000</text>
<line x1="224.35000000000002" y1="520.6" x2="224.35000000000002" y2="523.6" stroke="#111" stroke-width="1.0" />
<text x="225.25000000000003" y="533.3" style="font-size:7.7px;font-weight:bold;" text-anchor="middle" fill="#111" >1500</text>
<text x="131.3" y="546.6" style="font-size:9.9px;font-weight:bold;" text-anchor="start" fill="#111" >CD4</text>
<text x="184.0" y="413.7" style="font-size:9.9px;" text-anchor="start" fill="#1a1a1a" ><tspan style="font-style:italic">P</tspan> &gt; .05</text>
<circle cx="102.9" cy="416.0" r="2.6" fill="#111" stroke="none" stroke-width="0"/>
<circle cx="101.3" cy="425.0" r="2.6" fill="#111" stroke="none" stroke-width="0"/>
<circle cx="100.0" cy="451.0" r="2.6" fill="#111" stroke="none" stroke-width="0"/>
<circle cx="100.0" cy="454.2" r="2.6" fill="#111" stroke="none" stroke-width="0"/>
<circle cx="130.8" cy="466.9" r="2.6" fill="#111" stroke="none" stroke-width="0"/>
<circle cx="83.4" cy="473.8" r="2.6" fill="#111" stroke="none" stroke-width="0"/>
<circle cx="107.4" cy="476.2" r="2.6" fill="#111" stroke="none" stroke-width="0"/>
<circle cx="133.5" cy="480.8" r="2.6" fill="#111" stroke="none" stroke-width="0"/>
<circle cx="87.4" cy="493.8" r="2.6" fill="#111" stroke="none" stroke-width="0"/>
<circle cx="98.5" cy="494.9" r="2.6" fill="#111" stroke="none" stroke-width="0"/>
<circle cx="99.2" cy="498.5" r="2.6" fill="#111" stroke="none" stroke-width="0"/>
<circle cx="103.5" cy="497.7" r="2.6" fill="#111" stroke="none" stroke-width="0"/>
<circle cx="107.4" cy="493.1" r="2.6" fill="#111" stroke="none" stroke-width="0"/>
<circle cx="86.5" cy="506.9" r="2.6" fill="#111" stroke="none" stroke-width="0"/>
<circle cx="78.0" cy="512.6" r="2.6" fill="#111" stroke="none" stroke-width="0"/>
<circle cx="90.8" cy="512.8" r="2.6" fill="#111" stroke="none" stroke-width="0"/>
<circle cx="94.6" cy="512.8" r="2.6" fill="#111" stroke="none" stroke-width="0"/>
<circle cx="93.1" cy="517.7" r="2.6" fill="#111" stroke="none" stroke-width="0"/>
<circle cx="100.8" cy="514.3" r="2.6" fill="#111" stroke="none" stroke-width="0"/>
<circle cx="107.7" cy="506.9" r="2.6" fill="#111" stroke="none" stroke-width="0"/>
<circle cx="110.8" cy="505.1" r="2.6" fill="#111" stroke="none" stroke-width="0"/>
<circle cx="112.3" cy="508.5" r="2.6" fill="#111" stroke="none" stroke-width="0"/>
<circle cx="115.1" cy="502.0" r="2.6" fill="#111" stroke="none" stroke-width="0"/>
<circle cx="115.7" cy="507.7" r="2.6" fill="#111" stroke="none" stroke-width="0"/>
<circle cx="117.7" cy="511.2" r="2.6" fill="#111" stroke="none" stroke-width="0"/>
<circle cx="109.2" cy="509.2" r="2.6" fill="#111" stroke="none" stroke-width="0"/>
<circle cx="121.5" cy="517.7" r="2.6" fill="#111" stroke="none" stroke-width="0"/>
<circle cx="129.6" cy="504.3" r="2.6" fill="#111" stroke="none" stroke-width="0"/>
<circle cx="136.1" cy="503.1" r="2.6" fill="#111" stroke="none" stroke-width="0"/>
<circle cx="132.7" cy="507.7" r="2.6" fill="#111" stroke="none" stroke-width="0"/>
<circle cx="142.7" cy="500.0" r="2.6" fill="#111" stroke="none" stroke-width="0"/>
<circle cx="141.9" cy="508.5" r="2.6" fill="#111" stroke="none" stroke-width="0"/>
<circle cx="147.3" cy="506.2" r="2.6" fill="#111" stroke="none" stroke-width="0"/>
<circle cx="147.8" cy="510.5" r="2.6" fill="#111" stroke="none" stroke-width="0"/>
<circle cx="153.5" cy="509.5" r="2.6" fill="#111" stroke="none" stroke-width="0"/>
<circle cx="153.5" cy="511.5" r="2.6" fill="#111" stroke="none" stroke-width="0"/>
<circle cx="160.4" cy="510.0" r="2.6" fill="#111" stroke="none" stroke-width="0"/>
<circle cx="164.7" cy="510.0" r="2.6" fill="#111" stroke="none" stroke-width="0"/>
<circle cx="129.6" cy="513.8" r="2.6" fill="#111" stroke="none" stroke-width="0"/>
<circle cx="187.3" cy="513.5" r="2.6" fill="#111" stroke="none" stroke-width="0"/>
</svg>
</body></html>
